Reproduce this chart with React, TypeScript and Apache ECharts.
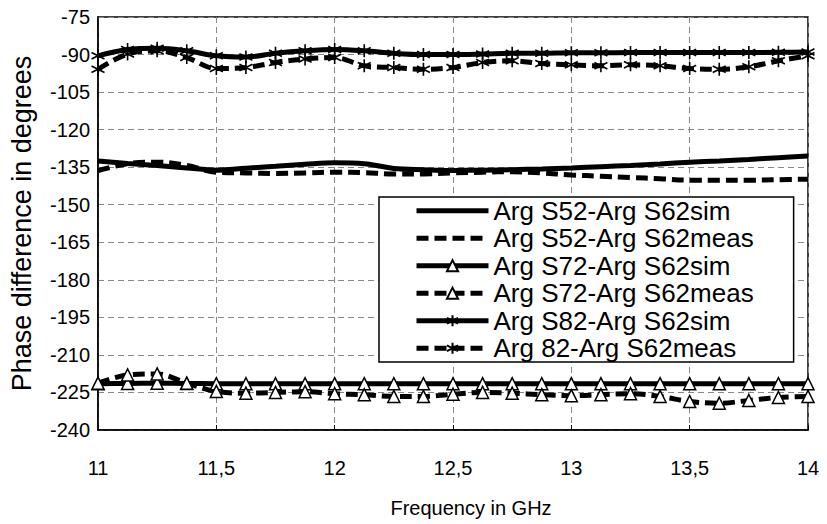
import React, { useEffect, useRef } from "react";
import * as echarts from "echarts";

const freq = [11, 11.125, 11.25, 11.375, 11.5, 11.625, 11.75, 11.875, 12, 12.125, 12.25, 12.375, 12.5, 12.625, 12.75, 12.875, 13, 13.125, 13.25, 13.375, 13.5, 13.625, 13.75, 13.875, 14];

const s52sim = [-132.5, -133.5, -134.3, -135.3, -136.2, -135.4, -134.6, -133.8, -133.2, -133.6, -135.5, -136.0, -136.3, -136.2, -136.0, -135.7, -135.3, -134.8, -134.3, -133.7, -133.0, -132.5, -131.9, -131.2, -130.5];
const s52meas = [-136.4, -133.6, -133.0, -134.3, -137.0, -137.3, -137.5, -137.3, -137.0, -137.2, -137.7, -137.7, -137.3, -137.0, -136.8, -137.3, -138.1, -138.6, -139.1, -139.6, -140.2, -140.2, -140.2, -140.0, -139.8];
const s72sim = [-221.5, -221.4, -221.3, -221.4, -221.5, -221.5, -221.5, -221.5, -221.5, -221.5, -221.5, -221.5, -221.5, -221.5, -221.5, -221.5, -221.5, -221.5, -221.5, -221.5, -221.5, -221.5, -221.5, -221.5, -221.5];
const s72meas = [-221.3, -218.0, -217.6, -221.3, -224.6, -225.3, -225.0, -224.7, -225.5, -225.9, -226.6, -226.6, -225.7, -225.0, -225.3, -225.9, -226.3, -225.9, -225.5, -226.6, -228.6, -229.3, -228.2, -227.0, -226.6];
const s82sim = [-90.5, -88.0, -87.5, -88.5, -90.5, -91.0, -89.5, -88.5, -88.0, -88.5, -89.5, -90.0, -90.0, -89.8, -89.5, -89.5, -89.3, -89.3, -89.2, -89.2, -89.2, -89.2, -89.2, -89.1, -89.0];
const s82meas = [-95.9, -89.8, -88.5, -91.2, -95.6, -95.2, -93.2, -91.8, -91.2, -94.5, -95.2, -95.9, -95.2, -93.2, -92.5, -93.6, -94.1, -94.5, -94.1, -94.5, -95.6, -95.9, -94.9, -92.5, -90.5];

const seriesNames = [
  "Arg S52-Arg S62sim",
  "Arg S52-Arg S62meas",
  "Arg S72-Arg S62sim",
  "Arg S72-Arg S62meas",
  "Arg S82-Arg S62sim",
  "Arg 82-Arg S62meas",
];

const FONT = "Liberation Sans, Arial, sans-serif";
const ASTERISK = "path://M0,-6L0,6M-5.2,-3L5.2,3M-5.2,3L5.2,-3";

function pairs(vals: number[]) {
  return freq.map((f, i) => [f, vals[i]]);
}

export default function App() {
  const ref = useRef<HTMLDivElement>(null);
  useEffect(() => {
    if (!ref.current) return;
    const chart = echarts.init(ref.current, undefined, { renderer: "svg" });
    const solid = { color: "#000", width: 5, type: "solid" as const };
    const dashed = { color: "#000", width: 5, type: [12, 6] as any, cap: "butt" as const };
    const tri = { symbol: "triangle", symbolSize: 12, itemStyle: { color: "#fff", borderColor: "#000", borderWidth: 1.5 } };
    const ast = { symbol: ASTERISK, symbolSize: 13, itemStyle: { color: "#000", borderColor: "#000", borderWidth: 1.6 } };
    const none = { symbol: "circle", showSymbol: false, itemStyle: { color: "rgba(0,0,0,0)", borderWidth: 0 } };
    const datas = [s52sim, s52meas, s72sim, s72meas, s82sim, s82meas];
    const styles = [
      { lineStyle: solid, ...none },
      { lineStyle: dashed, ...none },
      { lineStyle: solid, ...tri },
      { lineStyle: dashed, ...tri },
      { lineStyle: solid, ...ast },
      { lineStyle: dashed, ...ast },
    ];
    chart.setOption({
      animation: false,
      backgroundColor: "#fff",
      textStyle: { fontFamily: FONT },
      grid: { left: 98, right: 19, top: 17, bottom: 94, show: true, borderColor: "#000", borderWidth: 1.5, backgroundColor: "transparent" },
      xAxis: {
        type: "value",
        min: 11,
        max: 14,
        interval: 0.5,
        name: "Frequency in GHz",
        nameLocation: "middle",
        nameGap: 68,
        nameTextStyle: { fontSize: 20, color: "#000", fontFamily: FONT, padding: [0, 0, 0, 36] },
        axisLine: { lineStyle: { color: "#000", width: 1.5 } },
        axisTick: { show: true, inside: true, length: 5, lineStyle: { color: "#000" } },
        axisLabel: { fontSize: 20, color: "#000", margin: 28, fontFamily: FONT, formatter: (v: number) => String(v).replace(".", ",") },
        splitLine: { show: true, lineStyle: { color: "#888", type: [6, 4], width: 1 } },
      },
      yAxis: {
        type: "value",
        min: -240,
        max: -75,
        interval: 15,
        name: "Phase difference in degrees",
        nameLocation: "middle",
        nameGap: 63,
        nameTextStyle: { fontSize: 27, color: "#000", fontFamily: FONT },
        axisLine: { show: true, lineStyle: { color: "#000", width: 1.5 } },
        axisTick: { show: false },
        axisLabel: { fontSize: 20, color: "#000", margin: 8, fontFamily: FONT },
        splitLine: { show: true, lineStyle: { color: "#888", type: [6, 4], width: 1 } },
      },
      legend: {
        orient: "vertical",
        left: 379,
        top: 197,
        backgroundColor: "#fff",
        borderColor: "#000",
        borderWidth: 1.5,
        padding: [0, 40, 0, 35],
        itemWidth: 72,
        itemHeight: 14,
        itemGap: 0,
        lineStyle: { width: 5 },
        textStyle: { fontSize: 26, lineHeight: 27.5, color: "#000", fontFamily: FONT },
        data: seriesNames,
      },
      series: seriesNames.map((name, i) => ({
        name,
        type: "line",
        data: pairs(datas[i]),
        smooth: 0.35,
        z: 3,
        ...styles[i],
      })),
    });
    return () => chart.dispose();
  }, []);
  return <div ref={ref} style={{ position: "fixed", left: 0, top: 0, width: 827, height: 524 }} />;
}
